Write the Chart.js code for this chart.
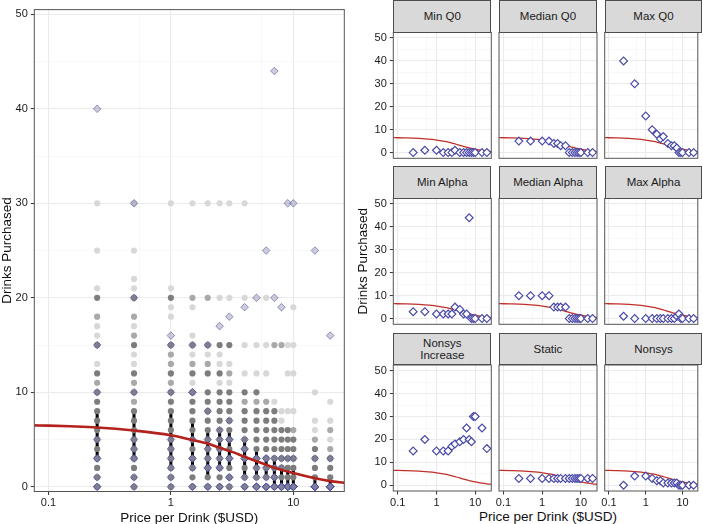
<!DOCTYPE html>
<html>
<head>
<meta charset="utf-8">
<script src="https://cdn.jsdelivr.net/npm/chart.js@4.4.1/dist/chart.umd.min.js"></script>
<style>
  body { margin: 0; background: #fff; }
  #wrap { position: relative; width: 703px; height: 524px; overflow: hidden; font-family: "Liberation Sans", Arial, sans-serif; }
  #wrap canvas { position: absolute; left: 0; top: 0; }
  .strip { position: absolute; box-sizing: border-box; background: #d9d9d9; border: 1px solid #4d4d4d;
           display: flex; align-items: center; justify-content: center; text-align: center;
           font-size: 11.5px; line-height: 12.5px; color: #1a1a1a; white-space: pre; }
  #xtitle2 { position: absolute; left: 448px; width: 200px; top: 509px; height: 16px; line-height: 16px;
             text-align: center; font-size: 13.5px; color: #111; }
</style>
</head>
<body>
<div id="wrap"><div id="xtitle2">Price per Drink ($USD)</div></div>
<script>
// prices offered in the purchase task
const prices = [0.25, 0.5, 1, 1.5, 2, 2.5, 3, 4, 5, 6, 7, 8, 9, 10, 15, 20];

// whole sample, drinks purchased at each price (by how dense the points are)
const darkPts = [
  [0,1,2,3,4,5,6,7,8,9,10,12,15,20],
  [0,1,2,3,4,5,6,7,8,10,12,15,20],
  [0,1,2,3,4,5,6,7,8,9,10,12,15,20],
  [0,1,2,3,4,5,6,7,8,9,10,12,15],
  [0,1,2,3,4,5,6,7,8,9,10,12,15],
  [0,1,2,3,4,5,6,7,8,9,10,12,15],
  [0,1,2,3,4,5,6,7,8,9,10,15],
  [0,1,2,3,4,5,6,7,8,10],
  [0,1,2,3,4,5,6,7,8,10],
  [0,1,2,3,4,5,6,7,8],
  [0,1,2,3,4,5,6,7,8],
  [0,1,2,3,4,5,6],
  [0,1,2,3,4,5,6],
  [0,1,2,3,4,5],
  [0,1,2,3,4],
  [0,1,2,3]
];
const midPts = [
  [11,18], [9,11,16,18], [11,13,14], [13,20], [13,20], [], [12], [9],
  [9], [9], [15], [15], [], [6], [5], [4,6]
];
const lightPts = [
  [13,16,17,21,25,30], [13,14,17,21,22,25,30], [18,19,21,30], [11,14,16,19,30],
  [14,30], [11,13,14,20,30], [11,13,20,30], [12,15,20,30],
  [12,15], [12,15,20], [9], [7,8],
  [8,12,15], [8,12,15,19], [6,7,10], [5,7,9]
];

// interquartile range at each price
const iqrLow  = [3,3,2,2,1,2,2,1,1,1,0,0,0,0,0,0];
const iqrHigh = [8,8,8,7,6,6,6,5,4,3,3,2,2,2,1,1];

// fitted demand curve
const curveX = [0.0767, 0.1, 0.15, 0.25, 0.5, 1, 1.5, 2, 2.5, 3, 4, 5, 6, 7, 8, 9, 10, 15, 20, 26];
const curveY = [6.5, 6.47, 6.4, 6.28, 5.95, 5.45, 4.95, 4.57, 4.12, 3.8, 3.18, 2.7, 2.33, 2.02, 1.8, 1.62, 1.45, 0.9, 0.6, 0.41];

// the nine example participants
const panelNames = ['Min Q0', 'Median Q0', 'Max Q0', 'Min Alpha', 'Median Alpha', 'Max Alpha', 'Nonsys\nIncrease', 'Static', 'Nonsys'];
const minQ0          = [0,1,1,0,0,0,1,0,0,0,0,0,0,0,0,0];
const medianQ0       = [5,5,5,5,4,4,3,3,0,0,0,0,0,0,0,0];
const maxQ0          = [40,30,16,10,8,6,7,4,3,3,2,0,0,0,0,0];
const minAlpha       = [3,3,2,2,2,2,5,4,2,2,44,0,0,0,0,0];
const medianAlpha    = [10,10,10,10,5,5,5,5,0,0,0,0,0,0,0,0];
const maxAlpha       = [1,0,0,0,0,0,0,0,0,0,1,2,0,0,0,0];
const nonsysIncrease = [15,20,15,15,15,17,18,19,20,25,20,19,30,30,25,16];
const staticCase     = [3,3,3,3,3,3,3,3,3,3,3,3,3,3,3,3];
const nonsys         = [0,4,4,3,2,2,1,1,1,1,1,0,0,0,0,0];
const participants = [minQ0, medianQ0, maxQ0, minAlpha, medianAlpha, maxAlpha, nonsysIncrease, staticCase, nonsys];

// axis ticks
const xTicks = [0.1, 0.55, 1, 5.5, 10];
const xTickLabels = ['0.1', '', '1', '', '10'];
const yTicks = [0, 5, 10, 15, 20, 25, 30, 35, 40, 45, 50];
const yTickLabels = ['0', '', '10', '', '20', '', '30', '', '40', '', '50'];

const W = 703, H = 524;
const xMin = 0.0767, xMax = 26.06;
const wrap = document.getElementById('wrap');
Chart.defaults.font.family = '"Liberation Sans", Arial, sans-serif';
Chart.defaults.color = '#1a1a1a';

const panelBorder = {
  id: 'panelBorder',
  afterDraw(chart) {
    const { ctx, chartArea: a } = chart;
    ctx.save();
    ctx.strokeStyle = '#555';
    ctx.lineWidth = 1;
    ctx.strokeRect(a.left, a.top, a.right - a.left, a.bottom - a.top);
    ctx.restore();
  }
};

function gridOpts(labels, showTicks) {
  return {
    color: c => labels[c.index] ? '#ebebeb' : '#f4f4f4',
    lineWidth: c => labels[c.index] ? 1.1 : 0.6,
    drawTicks: showTicks,
    tickLength: 3.5,
    tickWidth: 1,
    tickColor: c => labels[c.index] ? '#333' : 'rgba(0,0,0,0)'
  };
}

function toPoints(ys) {
  return ys.map((y, i) => ({ x: prices[i], y: y }));
}

function makePanel(box, datasets, ax) {
  const cv = document.createElement('canvas');
  cv.width = W; cv.height = H;
  wrap.appendChild(cv);
  return new Chart(cv.getContext('2d'), {
    type: 'scatter',
    data: { datasets: datasets },
    options: {
      responsive: false,
      animation: false,
      events: [],
      layout: { padding: { left: box.x0 - ax.yw, right: W - box.x1, top: box.y0, bottom: H - box.y1 - ax.xh } },
      plugins: { legend: { display: false }, tooltip: { enabled: false } },
      scales: {
        x: {
          type: 'logarithmic', min: xMin, max: xMax, bounds: 'data',
          afterBuildTicks: s => { s.ticks = xTicks.map(v => ({ value: v })); },
          afterFit: s => { s.height = ax.xh; },
          ticks: { display: ax.xLabels, autoSkip: false, maxRotation: 0, padding: ax.xPad,
                   font: { size: 11 }, color: '#1a1a1a', callback: (v, i) => xTickLabels[i] },
          grid: gridOpts(xTickLabels, ax.xLabels),
          border: { display: false },
          title: { display: !!ax.xTitle, text: ax.xTitle || '', padding: 0,
                   font: { size: 13.5, lineHeight: 0.9 }, color: '#111' }
        },
        y: {
          min: ax.yMin, max: ax.yMax, bounds: 'data',
          afterBuildTicks: s => { s.ticks = yTicks.map(v => ({ value: v })); },
          afterFit: s => { s.width = ax.yw; },
          ticks: { display: ax.yLabels, autoSkip: false, padding: 3,
                   font: { size: 11 }, color: '#1a1a1a', callback: (v, i) => yTickLabels[i] },
          grid: gridOpts(yTickLabels, ax.yLabels),
          border: { display: false },
          title: { display: !!ax.yTitle, text: ax.yTitle || '', padding: 0,
                   font: { size: 13.5, lineHeight: 1.05 }, color: '#111' }
        }
      }
    },
    plugins: [panelBorder]
  });
}

// ---- left: whole sample ----
const iqrData = [];
prices.forEach((p, i) => {
  iqrData.push({ x: p, y: iqrLow[i] }, { x: p, y: iqrHigh[i] }, { x: p, y: null });
});
function shadeSet(list, color, order) {
  const pts = [];
  list.forEach((ys, i) => ys.forEach(y => pts.push({ x: prices[i], y: y })));
  return { data: pts, pointStyle: 'circle', pointRadius: 3.1, borderWidth: 0, backgroundColor: color, order: order };
}
const curvePts = curveX.map((x, i) => ({ x: x, y: curveY[i] }));

const leftSets = [
  { data: iqrData, showLine: true, spanGaps: false, borderColor: '#000', borderWidth: 3, pointRadius: 0, order: 9 },
  shadeSet(lightPts, '#d8d8d8', 8),
  shadeSet(midPts, '#a9a9a9', 7),
  shadeSet(darkPts, '#7d7d7d', 6)
];
participants.forEach(vals => {
  leftSets.push({ data: toPoints(vals), pointStyle: 'rectRot', pointRadius: 3.8, borderWidth: 1,
    backgroundColor: 'rgba(130,130,160,0.4)', borderColor: 'rgba(70,70,160,0.55)', order: 3 });
});
leftSets.push({ data: curvePts, showLine: true, borderColor: '#b3221d', borderWidth: 2.6, pointRadius: 0,
  cubicInterpolationMode: 'monotone', order: 1 });

makePanel({ x0: 34.3, x1: 344.3, y0: 0, y1: 491.5 }, leftSets, {
  yw: 34.3, xh: 32.5, xLabels: true, yLabels: true, xPad: 1,
  yMin: -0.5, yMax: 50.5, xTitle: 'Price per Drink ($USD)', yTitle: 'Drinks Purchased'
});

// ---- right: facets ----
const cols = [[393.3, 491.3], [499, 597], [604.7, 702.3]];
const rows = [[32.3, 158.3], [198.3, 324.3], [365, 491]];
const stripRows = [[0, 32.3], [166, 198.3], [332.7, 365]];

participants.forEach((vals, k) => {
  const r = Math.floor(k / 3), c = k % 3;
  const sets = [
    { data: curvePts, showLine: true, borderColor: '#c0302a', borderWidth: 1.3, pointRadius: 0,
      cubicInterpolationMode: 'monotone', order: 2 },
    { data: toPoints(vals), pointStyle: 'rectRot', pointRadius: 3.9, borderWidth: 1.2,
      backgroundColor: '#fff', borderColor: '#4a4aa8', order: 1 }
  ];
  let yw = 0;
  if (c === 0) yw = (r === 1) ? 37.1 : 25;
  makePanel({ x0: cols[c][0], x1: cols[c][1], y0: rows[r][0], y1: rows[r][1] }, sets, {
    yw: yw, xh: r === 2 ? 33 : 0, xLabels: r === 2, yLabels: c === 0, xPad: 2,
    yMin: -2.5, yMax: 52.5, xTitle: '',
    yTitle: (r === 1 && c === 0) ? 'Drinks Purchased' : ''
  });

  const s = document.createElement('div');
  s.className = 'strip';
  s.style.left = cols[c][0] + 'px';
  s.style.width = (cols[c][1] - cols[c][0]) + 'px';
  s.style.top = stripRows[r][0] + 'px';
  s.style.height = (stripRows[r][1] - stripRows[r][0] + 0.5) + 'px';
  s.textContent = panelNames[k];
  wrap.appendChild(s);
});
</script>
</body>
</html>
